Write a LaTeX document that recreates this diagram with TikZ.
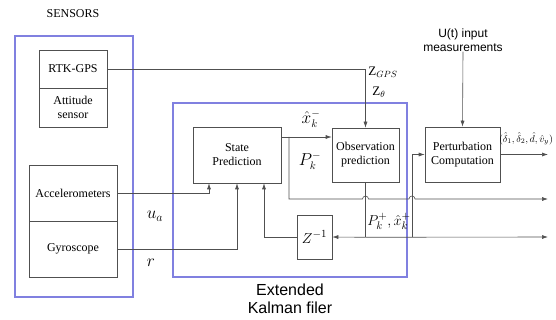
\documentclass[tikz,border=0pt]{standalone}
\usepackage{fontspec}
\setmainfont{Liberation Serif}
\setsansfont{Liberation Sans}
\usetikzlibrary{arrows.meta,positioning,calc}
\definecolor{Frame}{HTML}{8080E0}
\definecolor{Wire}{HTML}{505050}

\begin{document}
\begin{tikzpicture}[x=1pt,y=-1pt,
    block/.style={draw=Wire, fill=white, line width=0.6pt, align=center, inner sep=1pt, font=\fontsize{12}{14}\selectfont},
    group/.style={draw=Frame, line width=1.1pt},
    wire/.style={draw=Wire, line width=0.6pt},
    sig/.style={wire, -{Latex[length=6pt,width=4pt]}},
    lbl/.style={inner sep=0pt}]
  \useasboundingbox (0,0) rectangle (556,320);

  \node[group, minimum width=118, minimum height=261] (sensors) at (74,166.5) {};
  \node[group, minimum width=234, minimum height=174] (ekf) at (290,190) {};

  \foreach \n/\x/\y/\w/\h/\t in {gps/73/69/68/38/RTK-GPS, att/73/107.5/68/39/{Attitude\\sensor},
      acc/73/193/88/56/Accelerometers, gyr/73/249/88/56/Gyroscope} {
    \node[block, minimum width=\w, minimum height=\h] (\n) at (\x,\y) {\t};
  }
  \node[block, minimum width=88, minimum height=56] (sp) at (237,155) {State\\Prediction};
  \node[block, minimum width=67, minimum height=54] (op) at (365.5,155) {Observation\\prediction};
  \node[block, minimum width=75, minimum height=55] (pc) at (462.5,154.5) {Perturbation\\Computation};
  \node[block, minimum width=35, minimum height=44, font=\fontsize{15}{17}\selectfont] (zinv) at (314.5,237) {$Z^{-1}$};

  \node[lbl, font=\fontsize{12}{14}\selectfont] (sensname) at (73,14) {SENSORS};
  \node[lbl, align=center, font=\sffamily\fontsize{12}{14}\selectfont] (input) at (463,40) {U(t) input\\measurements};
  \node[lbl, align=center, font=\sffamily\fontsize{16}{18}\selectfont] (ekfname) at (290,299) {Extended\\Kalman filer};

  \node[lbl, font=\fontsize{13}{15}\selectfont] (zgps) at (383,72) {$\mathrm{Z}_{GPS}$};
  \node[lbl, font=\fontsize{13}{15}\selectfont] (zth) at (379,92) {$\mathrm{Z}_{\theta}$};
  \node[lbl, font=\fontsize{16}{18}\selectfont] (xpri) at (311,119) {$\hat{x}_k^-$};
  \node[lbl, font=\fontsize{16}{18}\selectfont] (ppri) at (310,161) {$P_k^-$};
  \node[lbl, font=\fontsize{15}{17}\selectfont] (ppost) at (389,221) {$P_k^+,\hat{x}_k^+$};
  \node[lbl, font=\fontsize{18}{20}\selectfont] (ua) at (155,216) {$u_a$};
  \node[lbl, font=\fontsize{18}{20}\selectfont] (rr) at (151,263) {$r$};
  \node[lbl, font=\fontsize{10}{12}\selectfont] (dlt) at (526,139) {$(\hat{\delta}_1,\hat{\delta}_2,\hat{d},\hat{v}_y)$};

  \coordinate (fork) at (289,137);
  \coordinate (out1) at (548,199);
  \coordinate (joint) at ($(op.south)+(0,55)$);
  \coordinate (tap) at (412,237);
  \coordinate (out2) at (548,237);
  \coordinate (out3) at (548,154.5);

  \draw[sig] (gps.east) -| (op.north);
  \draw[sig] (acc.east) -| ($(sp.south)+(-28,0)$);
  \draw[sig] (gyr.east) -| (sp.south);
  \draw[sig] (zinv.west) -| ($(sp.south)+(27,0)$);
  \draw[sig] ([yshift=18pt]sp.east) -- ([yshift=18pt]op.west);
  \draw[sig] (fork) |- ($(op.south |- out1)+(-3,0)$) arc[start angle=180, end angle=0, radius=3pt]
    -- ($(tap |- out1)+(-3,0)$) arc[start angle=180, end angle=0, radius=3pt] -- (out1);
  \draw[wire] (op.south) -- (joint);
  \draw[sig] (joint) -- (zinv.east);
  \draw[sig] (joint) -- (out2);
  \draw[sig] (tap) |- (pc.west);
  \draw[sig] (pc.east) -- (out3);
  \draw[sig] (input.south) -- (pc.north);
\end{tikzpicture}
\end{document}
